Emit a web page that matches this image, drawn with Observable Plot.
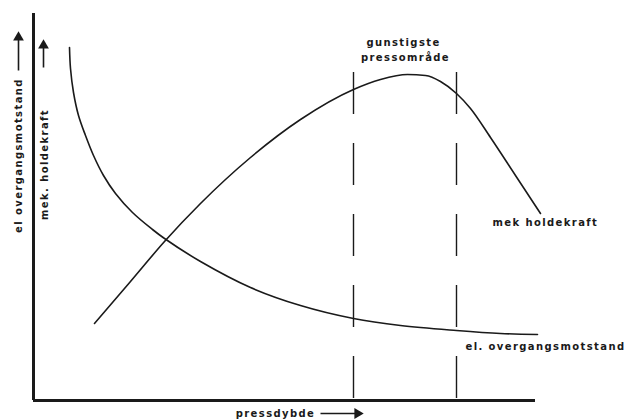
<!DOCTYPE html>
<html>
<head>
<meta charset="utf-8">
<script src="https://cdn.jsdelivr.net/npm/d3@7"></script>
<script src="https://cdn.jsdelivr.net/npm/@observablehq/plot@0.6"></script>
<style>
  html, body { margin: 0; padding: 0; background: #fff; }
</style>
</head>
<body>
<div id="chart"></div>
<script>
// Press depth (x, arbitrary units) and mechanical holding force (y, arbitrary units)
const mekDepth = [61, 97, 131, 167, 217, 267, 320, 347, 374, 392, 407, 423, 437, 457, 482, 507];
const mekForce = [77, 119, 159, 197, 243, 281, 311, 321, 326, 325, 319, 307, 292, 263, 225, 187];

// Press depth and electrical contact resistance
const elDepth = [36, 37, 40, 45, 52, 60, 70, 82, 99, 119, 131, 167, 217, 267, 320, 367, 423, 467, 504];
const elResistance = [353, 332, 308, 285, 265, 245, 225, 207, 188, 171, 162, 139, 113, 95, 82, 75, 70, 67, 66];

// Favourable pressing range (start, end of press depth)
const optimalRange = [320, 423];
const optimalTop = 328;

// Axis extents
const xMax = 502;
const yMax = 387;

const mek = mekDepth.map((x, i) => ({x, y: mekForce[i]}));
const el = elDepth.map((x, i) => ({x, y: elResistance[i]}));

const ink = "#1a1a1a";
const font = "DejaVu Sans";

const centeredLabels = [
  {text: "gunstigste", x: 370, y: 358, rotate: 0},
  {text: "pressområde", x: 372, y: 343, rotate: 0},
  {text: "pressdybde", x: 242, y: -13, rotate: 0},
  {text: "el overgangsmotstand", x: -15, y: 245, rotate: -90},
  {text: "mek. holdekraft", x: 11, y: 236, rotate: -90}
];
const startLabels = [
  {text: "mek holdekraft", x: 459, y: 178},
  {text: "el. overgangsmotstand", x: 432, y: 54}
];

const arrows = [
  {x1: 287, y1: -13, x2: 324, y2: -13, dir: 90},
  {x1: -15, y1: 330, x2: -15, y2: 363, dir: 0},
  {x1: 10, y1: 333, x2: 10, y2: 355, dir: 0}
];

const textStyle = {fontSize: 10, fontWeight: "bold", fontFamily: font, fill: ink};

const chart = Plot.plot({
  width: 630,
  height: 419,
  marginLeft: 33,
  marginRight: 95,
  marginTop: 13,
  marginBottom: 19,
  x: {domain: [0, xMax], axis: null},
  y: {domain: [0, yMax], axis: null},
  style: {background: "#fff", letterSpacing: "1.4px"},
  marks: [
    Plot.ruleX(optimalRange, {y1: optimalTop, y2: 0, stroke: ink, strokeWidth: 1.4, strokeDasharray: "42,29"}),
    Plot.line(mek, {x: "x", y: "y", curve: "monotone-x", stroke: ink, strokeWidth: 1.6}),
    Plot.line(el, {x: "x", y: "y", curve: "catmull-rom", stroke: ink, strokeWidth: 1.6}),
    Plot.ruleX([0], {y1: 0, y2: yMax, stroke: ink, strokeWidth: 3}),
    Plot.ruleY([0], {x1: 0, x2: xMax, stroke: ink, strokeWidth: 3}),
    Plot.link(arrows, {x1: "x1", y1: "y1", x2: "x2", y2: "y2", stroke: ink, strokeWidth: 1.6}),
    Plot.dot(arrows, {x: "x2", y: "y2", symbol: "triangle", r: 4, fill: ink, stroke: null, rotate: "dir"}),
    Plot.text(centeredLabels, {x: "x", y: "y", text: "text", rotate: "rotate", textAnchor: "middle", ...textStyle}),
    Plot.text(startLabels, {x: "x", y: "y", text: "text", textAnchor: "start", ...textStyle})
  ]
});

document.getElementById("chart").appendChild(chart);
</script>
</body>
</html>
